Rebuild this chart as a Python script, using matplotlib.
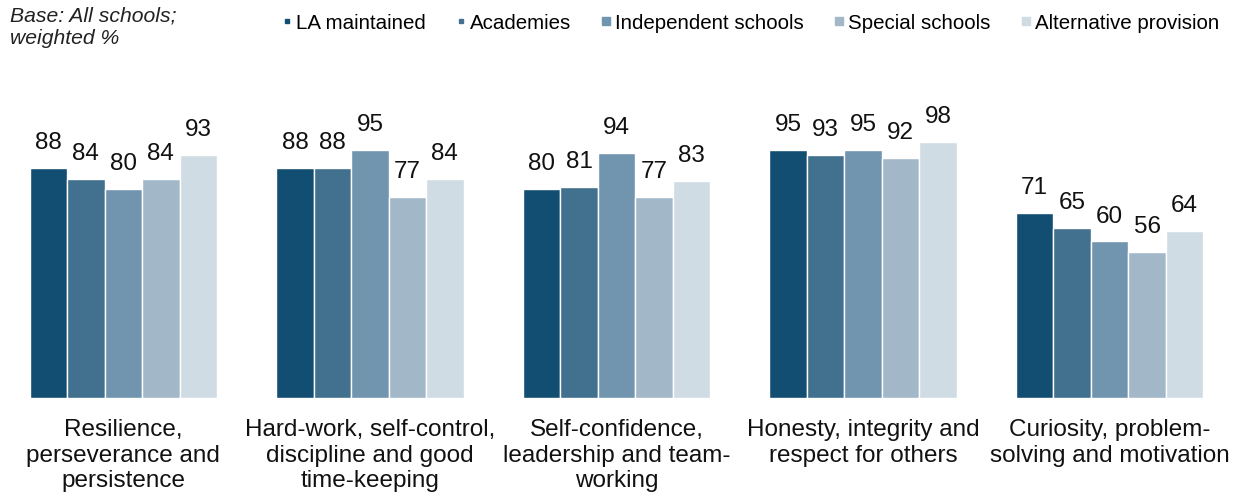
import numpy as np
import matplotlib.pyplot as plt
from matplotlib.lines import Line2D

plt.rcParams['font.family'] = ['Liberation Sans', 'DejaVu Sans']

categories = ['Resilience,\nperseverance and\npersistence',
              'Hard-work, self-control,\ndiscipline and good\ntime-keeping',
              'Self-confidence,\nleadership and team-\nworking',
              'Honesty, integrity and\nrespect for others',
              'Curiosity, problem-\nsolving and motivation']
school_types = ['LA maintained', 'Academies', 'Independent schools',
                'Special schools', 'Alternative provision']
la_maintained = [88, 88, 80, 95, 71]
academies = [84, 88, 81, 93, 65]
independent = [80, 95, 94, 95, 60]
special = [84, 77, 77, 92, 56]
alternative = [93, 84, 83, 98, 64]

series = [la_maintained, academies, independent, special, alternative]
colors = ['#124e72', '#41718f', '#7195ae', '#a2b8c9', '#d0dce4']
marker_sizes = [3, 3, 6, 6, 6]

fig = plt.figure(figsize=(12.33, 4.94), dpi=100)
ax = fig.add_axes([0, 1 - 398/494, 1, (398 - 137)/494])

x = np.arange(len(categories))
w = 0.152
for i, vals in enumerate(series):
    pos = x + (i - 2) * w
    ax.bar(pos, vals, w, color=colors[i], edgecolor='white', linewidth=1.0)
    for p, v in zip(pos, vals):
        ax.annotate(str(v), (p, v), xytext=(0, 10), textcoords='offset points',
                    ha='center', va='bottom', fontsize=17.5, color='#111111')

ax.set_xlim(-0.5, 4.5)
ax.set_ylim(0, 100)
ax.set_xticks(x)
ax.set_xticklabels(categories, fontsize=17.5, color='#111111', linespacing=1.22)
ax.tick_params(axis='x', length=0, pad=15)
ax.set_yticks([])
for s in ax.spines.values():
    s.set_visible(False)

handles = [Line2D([], [], marker='s', linestyle='none', color=c, markersize=m)
           for c, m in zip(colors, marker_sizes)]
fig.legend(handles, school_types, loc='upper left', bbox_to_anchor=(260/1233, 1 + 5/494),
           ncol=5, frameon=False, fontsize=14.8, handletextpad=0.05, columnspacing=1.3,
           handlelength=0.8)

fig.text(10/1233, 1 - 6/494, 'Base: All schools;\nweighted %', style='italic',
         fontsize=15.2, va='top', ha='left', color='#222222', linespacing=1.25)

fig.savefig('out.png', dpi=100)
